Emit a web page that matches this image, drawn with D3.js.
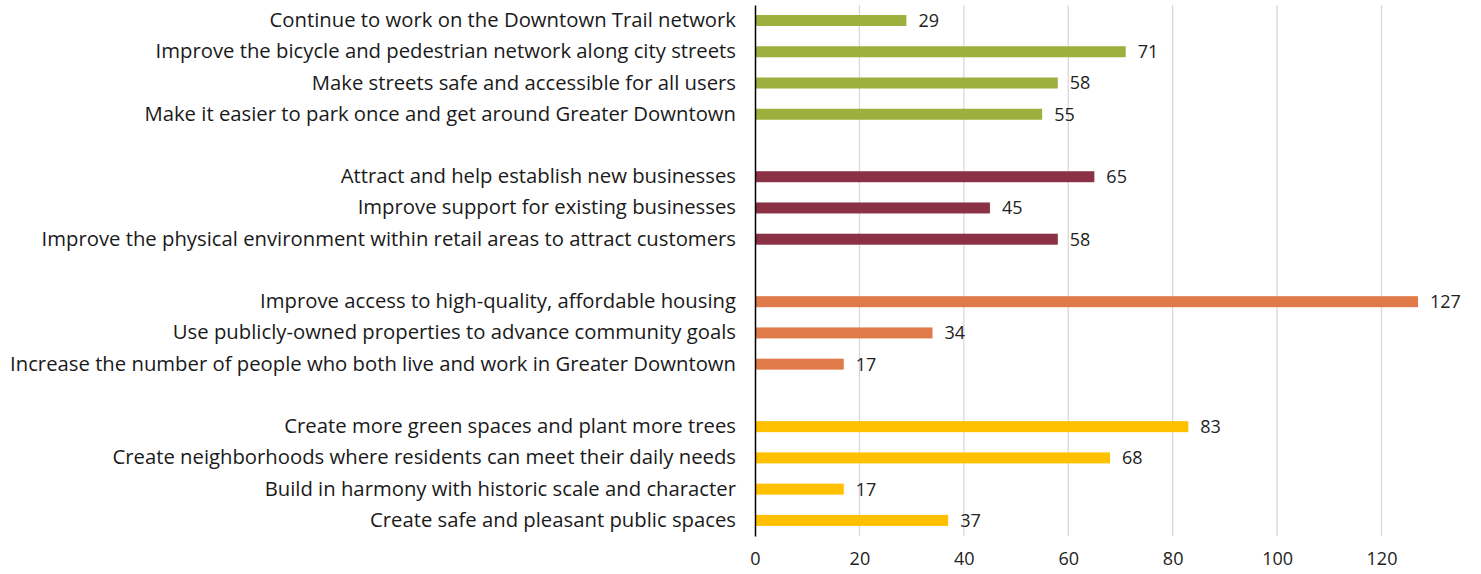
<!DOCTYPE html>
<html>
<head>
<meta charset="utf-8">
<script src="https://cdn.jsdelivr.net/npm/d3@7"></script>
<style>
  html, body { margin: 0; padding: 0; background: #fff; }
  svg { display: block; font-family: "Open Sans", Lato, sans-serif; }
</style>
</head>
<body>
<svg id="chart" width="1481" height="574"></svg>
<script>
// Survey priorities, grouped by theme (top to bottom)
const mobilityLabels = [
  "Continue to work on the Downtown Trail network",
  "Improve the bicycle and pedestrian network along city streets",
  "Make streets safe and accessible for all users",
  "Make it easier to park once and get around Greater Downtown"
];
const mobilityValues = [29, 71, 58, 55];

const businessLabels = [
  "Attract and help establish new businesses",
  "Improve support for existing businesses",
  "Improve the physical environment within retail areas to attract customers"
];
const businessValues = [65, 45, 58];

const housingLabels = [
  "Improve access to high-quality, affordable housing",
  "Use publicly-owned properties to advance community goals",
  "Increase the number of people who both live and work in Greater Downtown"
];
const housingValues = [127, 34, 17];

const placeLabels = [
  "Create more green spaces and plant more trees",
  "Create neighborhoods where residents can meet their daily needs",
  "Build in harmony with historic scale and character",
  "Create safe and pleasant public spaces"
];
const placeValues = [83, 68, 17, 37];

const groupColors = ["#9DAF3C", "#8B3145", "#E07A4B", "#FFC000"];
const xTicks = [0, 20, 40, 60, 80, 100, 120];

const groups = [
  { labels: mobilityLabels, values: mobilityValues },
  { labels: businessLabels, values: businessValues },
  { labels: housingLabels, values: housingValues },
  { labels: placeLabels, values: placeValues }
];

// Flatten into rows, with an empty spacer row between groups
const rows = [];
groups.forEach((g, gi) => {
  if (gi > 0) rows.push({ key: "gap" + gi, label: "", value: null, group: gi });
  g.labels.forEach((label, i) => rows.push({ key: label, label, value: g.values[i], group: gi }));
});

const svg = d3.select("#chart");
const x0 = 755, yTop = 4.9, yBottom = 536;

const x = d3.scaleLinear().domain([0, 120]).range([x0, 1381.5]);
const y = d3.scaleBand().domain(rows.map(d => d.key)).range([yTop, yBottom]).paddingInner(0).paddingOuter(0);
const barH = 11;

// Vertical gridlines
svg.append("g")
  .selectAll("line")
  .data(xTicks.filter(t => t > 0))
  .join("line")
  .attr("x1", d => x(d)).attr("x2", d => x(d))
  .attr("y1", yTop).attr("y2", yBottom)
  .attr("stroke", "#d9d9d9").attr("stroke-width", 1.3);

// Bars
const dataRows = rows.filter(d => d.value !== null);
svg.append("g")
  .selectAll("rect")
  .data(dataRows)
  .join("rect")
  .attr("x", x(0))
  .attr("y", d => y(d.key) + y.bandwidth() / 2 - barH / 2)
  .attr("width", d => x(d.value) - x(0))
  .attr("height", barH)
  .attr("fill", d => groupColors[d.group]);

// Value labels
svg.append("g")
  .selectAll("text")
  .data(dataRows)
  .join("text")
  .attr("x", d => x(d.value) + 12)
  .attr("y", d => y(d.key) + y.bandwidth() / 2)
  .attr("dy", "0.36em")
  .attr("font-size", 18)
  .attr("fill", "#222")
  .text(d => d.value);

// Category axis
const yAxis = d3.axisLeft(y).tickSize(0).tickPadding(19).tickFormat(k => {
  const r = rows.find(d => d.key === k);
  return r ? r.label : "";
});
const gy = svg.append("g").attr("transform", `translate(${x0},0)`).call(yAxis);
gy.select(".domain").attr("stroke", "#000").attr("stroke-width", 1.5);
gy.selectAll("text").attr("font-size", 20.3).attr("fill", "#1a1a1a").attr("font-family", "'Open Sans', sans-serif");

// Value axis
const xAxis = d3.axisBottom(x).tickValues(xTicks).tickSize(0).tickPadding(16);
const gx = svg.append("g").attr("transform", `translate(0,${yBottom})`).call(xAxis);
gx.select(".domain").remove();
gx.selectAll("text").attr("font-size", 18).attr("fill", "#222").attr("font-family", "'Open Sans', sans-serif");
</script>
</body>
</html>
